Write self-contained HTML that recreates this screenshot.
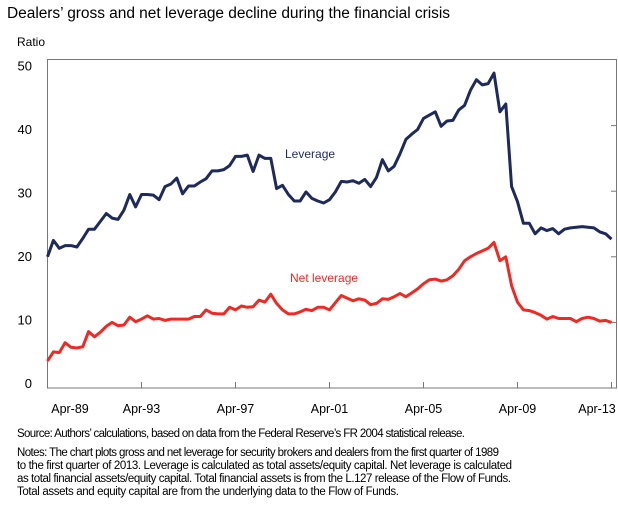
<!DOCTYPE html>
<html><head><meta charset="utf-8"><style>
body{margin:0;background:#fff;}
svg{display:block;font-family:"Liberation Sans",Arial,sans-serif;}
</style></head><body>
<svg id="chart" width="618" height="506">
<text x="7" y="18" font-size="15.5" fill="#000" textLength="443">Dealers’ gross and net leverage decline during the financial crisis</text>
<text x="17" y="46" font-size="12" fill="#000">Ratio</text>
<rect x="47.5" y="59.5" width="569" height="328.5" fill="none" stroke="#777" stroke-width="1"/>
<g id="yticks"></g><g id="xticks"></g><g id="series"></g>
<text x="285" y="158" font-size="12" fill="#1f2a5c">Leverage</text>
<text x="290" y="282" font-size="12" fill="#ee2a24">Net leverage</text>
<text x="17" y="437" font-size="11.5" fill="#000" textLength="448">Source: Authors’ calculations, based on data from the Federal Reserve’s FR 2004 statistical release.</text>
<g font-size="11.5" fill="#000">
<text x="17" y="456" textLength="482">Notes: The chart plots gross and net leverage for security brokers and dealers from the first quarter of 1989</text>
<text x="17" y="469" textLength="495">to the first quarter of 2013. Leverage is calculated as total assets/equity capital. Net leverage is calculated</text>
<text x="17" y="482" textLength="494">as total financial assets/equity capital. Total financial assets is from the L.127 release of the Flow of Funds.</text>
<text x="17" y="495" textLength="382">Total assets and equity capital are from the underlying data to the Flow of Funds.</text>
</g>
</svg>
<script>
const leverage=[20.0,22.5,21.3,21.7,21.7,21.5,22.8,24.2,24.2,25.4,26.6,25.9,25.7,27.1,29.5,27.6,29.5,29.5,29.4,28.7,30.7,31.1,32.0,29.6,30.8,30.8,31.4,31.9,33.1,33.1,33.3,33.9,35.3,35.3,35.5,33.0,35.5,35.0,35.0,30.4,30.9,29.5,28.5,28.5,29.9,28.9,28.5,28.2,28.7,29.9,31.5,31.4,31.6,31.2,31.8,30.7,32.1,34.8,33.1,33.8,35.7,37.9,38.7,39.4,41.1,41.6,42.1,39.9,40.7,40.8,42.4,43.1,45.4,47.0,46.2,46.4,48.0,42.1,43.3,30.7,28.4,25.1,25.1,23.5,24.4,24.0,24.3,23.5,24.2,24.4,24.5,24.6,24.5,24.4,23.8,23.5,22.7];
const netLeverage=[4.1,5.5,5.4,6.9,6.2,6.1,6.3,8.6,7.8,8.5,9.4,10.0,9.5,9.6,10.8,10.1,10.5,11.0,10.5,10.6,10.3,10.5,10.5,10.5,10.5,10.9,10.9,11.9,11.4,11.3,11.3,12.3,11.9,12.5,12.3,12.4,13.4,13.1,14.3,12.9,11.9,11.3,11.3,11.6,12.0,11.8,12.3,12.3,11.9,13.0,14.1,13.7,13.3,13.6,13.4,12.7,12.9,13.6,13.5,13.9,14.4,13.9,14.5,15.1,15.9,16.5,16.6,16.3,16.5,17.1,18.1,19.4,20.0,20.5,20.9,21.3,22.2,19.4,20.0,15.6,13.1,11.9,11.8,11.5,11.1,10.5,10.9,10.6,10.6,10.6,10.1,10.6,10.8,10.6,10.2,10.3,10.0];
const yTickValues=[0,10,20,30,40,50];
const xTickLabels=["Apr-89","Apr-93","Apr-97","Apr-01","Apr-05","Apr-09","Apr-13"];
const xTickQuarters=[0,16,32,48,64,80,96];
const NS="http://www.w3.org/2000/svg";
const x=q=>47.5+q*5.875;
const y=v=>388-v*6.56;
const yLab=v=>383-v*6.35;
function mk(tag,attrs,parent){const e=document.createElementNS(NS,tag);for(const k in attrs)e.setAttribute(k,attrs[k]);parent.appendChild(e);return e;}
const yt=document.getElementById('yticks');
yTickValues.forEach(v=>{
 const t=mk('text',{x:32,y:yLab(v)+5,'font-size':13,'text-anchor':'end',fill:'#000'},yt);t.textContent=v;
 
 
 if(v>0&&v<50){const l=mk('line',{x1:611,x2:617,y1:y(v),y2:y(v),stroke:'#777'},yt);
 
 }
});
const xt=document.getElementById('xticks');
xTickLabels.forEach((lab,i)=>{
 const q=xTickQuarters[i];
 if(i>0){const l=mk('line',{x1:x(q),x2:x(q),y1:382,y2:388,stroke:'#777'},xt);
 
 }
 let cx=x(q); if(i===0)cx=70; if(i===xTickLabels.length-1)cx=597;
 const t=mk('text',{x:cx,y:413,'font-size':12.5,'text-anchor':'middle',fill:'#000'},xt);t.textContent=lab;
 
 
});
const sg=document.getElementById('series');
function line(data,color,name){
 const d=data.map((v,i)=>(i?'L':'M')+x(i).toFixed(1)+','+y(v).toFixed(1)).join('');
 const p=mk('path',{d:d,fill:'none',stroke:color,'stroke-width':3,'stroke-linejoin':'round'},sg);
 
 
}
line(leverage,'#1f2a5c','leverage-line');
line(netLeverage,'#ee2a24','net-leverage-line');
</script>
</body></html>
